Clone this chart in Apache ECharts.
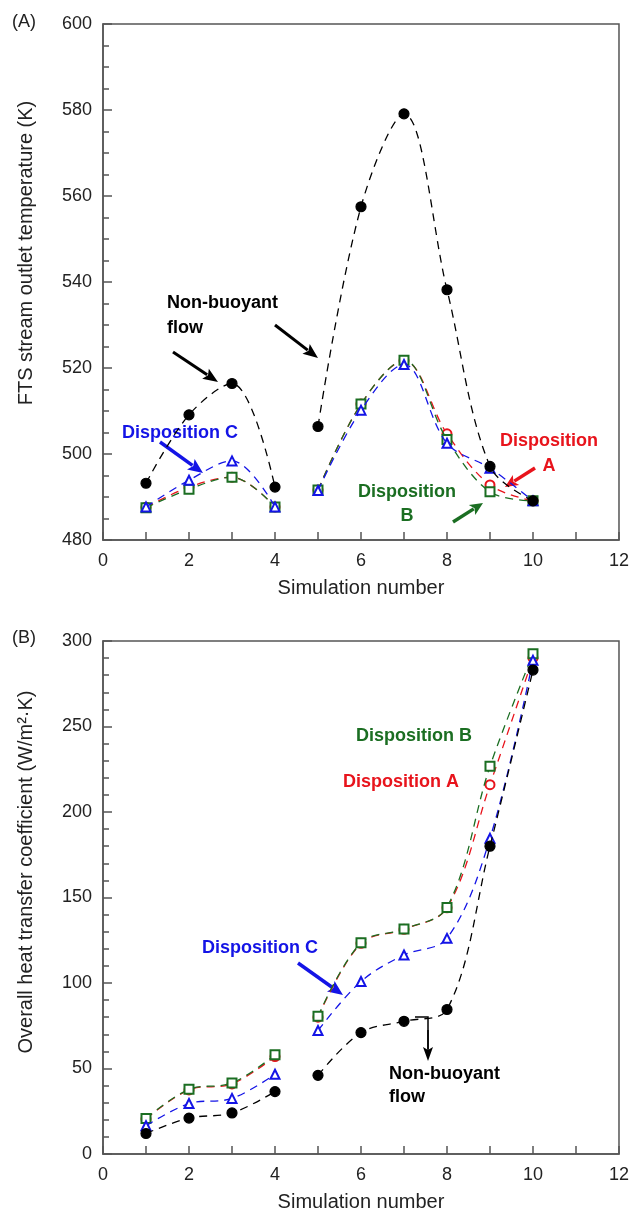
<!DOCTYPE html>
<html>
<head>
<meta charset="utf-8">
<script src="https://cdn.jsdelivr.net/npm/echarts@6/dist/echarts.min.js"></script>
<style>
html, body { margin: 0; padding: 0; background: #fff; }
#main { width: 632px; height: 1216px; }
</style>
</head>
<body>
<div id="main"></div>
<script>
// simulation numbers (x axis)
var sims = [1, 2, 3, 4, 5, 6, 7, 8, 9, 10]
var gapAfter = 4 // curves are broken between simulation 4 and 5

// (A) FTS stream outlet temperature (K)
var tempNonBuoyant = [493.2, 509.1, 516.4, 492.3, 506.4, 557.5, 579.1, 538.2, 497.1, 489.1]
var tempDispA = [487.6, 492.3, 494.6, 487.7, 491.6, 511.6, 521.7, 504.7, 492.8, 489.1]
var tempDispB = [487.5, 491.8, 494.6, 487.7, 491.6, 511.6, 521.8, 503.4, 491.2, 489.1]
var tempDispC = [487.7, 493.9, 498.4, 487.7, 491.5, 510.2, 520.8, 502.5, 496.7, 489.1]

// (B) overall heat transfer coefficient (W/m2.K)
var htcNonBuoyant = [12, 21, 24, 36.5, 46, 71, 77.6, 84.5, 180, 283]
var htcDispA = [20.5, 37.5, 41, 57, 80, 123.2, 131.4, 144, 216, 290]
var htcDispB = [20.8, 37.8, 41.5, 58, 80.5, 123.5, 131.6, 144.2, 226.7, 292.5]
var htcDispC = [16.5, 29.5, 32.5, 46.6, 72.2, 100.9, 116.4, 126.1, 184.6, 288.7]

var RED = '#e8141c', GREEN = '#1b6e22', BLUE = '#1414e6', BLACK = '#000'
var FONT = 'Liberation Sans, Arial, sans-serif'

var chart = echarts.init(document.getElementById('main'), null, { renderer: 'canvas' })

function pts(vals) {
  var out = []
  sims.forEach(function (s, i) {
    out.push([s, vals[i]])
    if (s === gapAfter) out.push([s + 0.5, '-'])
  })
  return out
}

function line(name, vals, idx, color, symbol, size, z) {
  return {
    name: name,
    type: 'line',
    xAxisIndex: idx,
    yAxisIndex: idx,
    data: pts(vals),
    smooth: 0.35,
    connectNulls: false,
    symbol: symbol,
    symbolSize: size,
    showAllSymbol: true,
    lineStyle: { color: color, width: 1.3, type: [8, 6] },
    itemStyle: { color: color, borderColor: color, borderWidth: 1.2 },
    z: z
  }
}

function xAxis(idx) {
  return {
    type: 'value', gridIndex: idx, min: 0, max: 12, interval: 2,
    axisLine: { lineStyle: { color: '#555', width: 1.5 } },
    axisTick: { inside: true, length: 8, lineStyle: { color: '#555', width: 1.5 } },
    minorTick: { show: true, splitNumber: 2, length: 8, lineStyle: { color: '#555', width: 1.5 } },
    axisLabel: { fontSize: 18, color: '#222', margin: 12, fontFamily: FONT },
    splitLine: { show: false },
    name: 'Simulation number', nameLocation: 'middle', nameGap: 38,
    nameTextStyle: { fontSize: 20, color: '#222', fontFamily: FONT }
  }
}

function yAxis(idx, min, max, interval, minorSplit) {
  return {
    type: 'value', gridIndex: idx, min: min, max: max, interval: interval,
    axisLine: { show: true, lineStyle: { color: '#555', width: 1.5 } },
    axisTick: { inside: true, length: 9, lineStyle: { color: '#555', width: 1.5 } },
    minorTick: { show: true, splitNumber: minorSplit, length: 6, lineStyle: { color: '#555', width: 1.5 } },
    axisLabel: { fontSize: 18, color: '#222', margin: 11, fontFamily: FONT },
    splitLine: { show: false }
  }
}

function arrow(x1, y1, x2, y2, color, w, hl, hw) {
  var dx = x2 - x1, dy = y2 - y1
  var len = Math.sqrt(dx * dx + dy * dy)
  var ux = dx / len, uy = dy / len
  var bx = x2 - ux * hl, by = y2 - uy * hl
  return [
    { type: 'line', shape: { x1: x1, y1: y1, x2: bx + ux * 2, y2: by + uy * 2 }, style: { stroke: color, lineWidth: w } },
    { type: 'polygon', shape: { points: [[x2, y2], [bx - uy * hw, by + ux * hw], [bx + ux * 3, by + uy * 3], [bx + uy * hw, by - ux * hw]] }, style: { fill: color } }
  ]
}

function label(x, y, text, color, opts) {
  opts = opts || {}
  return {
    type: 'text', x: x, y: y, rotation: opts.rotation || 0,
    style: {
      text: text, fill: color, fontFamily: FONT,
      fontSize: opts.size || 18, fontWeight: opts.bold === false ? 'normal' : 'bold',
      align: opts.align || 'left', verticalAlign: opts.valign || 'middle',
      lineHeight: opts.lh || 24
    }
  }
}

var graphics = [
  label(12, 22, '(A)', '#222', { bold: false }),
  label(12, 638, '(B)', '#222', { bold: false }),
  label(26, 253, 'FTS stream outlet temperature (K)', '#222', { bold: false, size: 20, align: 'center', rotation: Math.PI / 2 }),
  label(26, 872, 'Overall heat transfer coefficient (W/m\u00b2\u00b7K)', '#222', { bold: false, size: 20, align: 'center', rotation: Math.PI / 2 }),

  // panel A notes
  label(167, 291, 'Non-buoyant\nflow', BLACK, { valign: 'top', lh: 25 }),
  label(122, 433, 'Disposition C', BLUE),
  label(549, 429, 'Disposition\nA', RED, { align: 'center', valign: 'top', lh: 25 }),
  label(407, 480, 'Disposition\nB', GREEN, { align: 'center', valign: 'top', lh: 24 }),

  // panel B notes
  label(356, 736, 'Disposition B', GREEN),
  label(343, 782, 'Disposition A', RED),
  label(202, 948, 'Disposition C', BLUE),
  label(389, 1063, 'Non-buoyant\nflow', BLACK, { valign: 'top', lh: 23 }),
  { type: 'polyline', shape: { points: [[415, 1017], [428, 1017], [428, 1050]] }, style: { stroke: BLACK, lineWidth: 1.5, fill: null } }
]
graphics = graphics
  .concat(arrow(173, 352, 218, 382, BLACK, 3, 15, 6))
  .concat(arrow(275, 325, 318, 358, BLACK, 3, 15, 6))
  .concat(arrow(160, 442, 203, 473, BLUE, 3.5, 15, 6.5))
  .concat(arrow(535, 468, 505, 487, RED, 3.5, 13, 6))
  .concat(arrow(453, 522, 483, 503, GREEN, 3.5, 13, 6))
  .concat(arrow(298, 963, 343, 995, BLUE, 3.5, 15, 6.5))
  .concat(arrow(428, 1030, 428, 1061, BLACK, 1.5, 14, 5))

chart.setOption({
  animation: false,
  backgroundColor: '#fff',
  grid: [
    { left: 103, top: 24, width: 519, height: 516, show: true, borderColor: '#555', borderWidth: 1.5 },
    { left: 103, top: 641, width: 519, height: 513, show: true, borderColor: '#555', borderWidth: 1.5 }
  ],
  xAxis: [xAxis(0), xAxis(1)],
  yAxis: [yAxis(0, 480, 600, 20, 4), yAxis(1, 0, 300, 50, 5)],
  series: [
    line('Disposition A', tempDispA, 0, RED, 'emptyCircle', 9, 2),
    line('Disposition B', tempDispB, 0, GREEN, 'emptyRect', 9, 3),
    line('Disposition C', tempDispC, 0, BLUE, 'emptyTriangle', 9, 4),
    line('Non-buoyant flow', tempNonBuoyant, 0, BLACK, 'circle', 10, 5),
    line('Disposition A', htcDispA, 1, RED, 'emptyCircle', 9, 2),
    line('Disposition B', htcDispB, 1, GREEN, 'emptyRect', 9, 3),
    line('Disposition C', htcDispC, 1, BLUE, 'emptyTriangle', 9, 4),
    line('Non-buoyant flow', htcNonBuoyant, 1, BLACK, 'circle', 10, 5)
  ],
  graphic: graphics
})
</script>
</body>
</html>
